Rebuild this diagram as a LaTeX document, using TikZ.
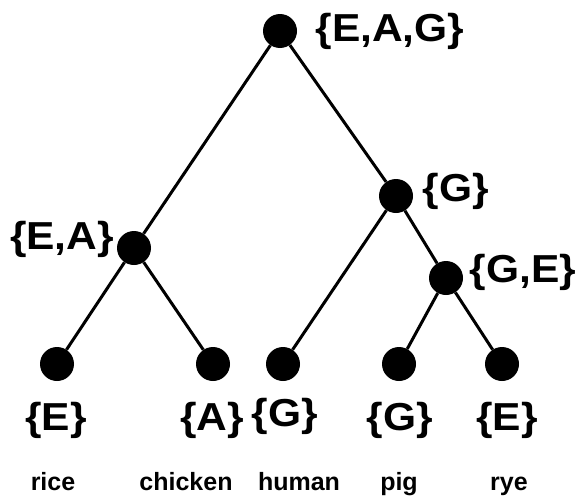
\documentclass[tikz,border=0pt]{standalone}
\usepackage{fontspec}
\setmainfont{Liberation Sans}
\newfontfamily\setlabelfont{Liberation Sans}[FakeStretch=1.09]
\begin{document}
\begin{tikzpicture}[x=1pt,y=-1pt,
  dot/.style={circle,fill=black,inner sep=0pt,minimum size=34pt},
  set/.style={font=\setlabelfont\fontsize{39}{42}\selectfont\bfseries,inner sep=0pt,anchor=base},
  taxon/.style={font=\fontsize{25}{28}\selectfont\bfseries,inner sep=0pt,anchor=base},
  edge/.style={line width=3pt}]
\useasboundingbox (0,0) rectangle (579,498);
\node[dot] (r) at (280,31) {};
\node[dot] (g) at (396,196) {};
\node[dot] (ea) at (134,248) {};
\node[dot] (ge) at (446,278) {};
\node[dot] (l1) at (57,364) {};
\node[dot] (l2) at (213,364) {};
\node[dot] (l3) at (283,364) {};
\node[dot] (l4) at (399,364) {};
\node[dot] (l5) at (502,364) {};
\draw[edge] (r) -- (ea);
\draw[edge] (r) -- (g);
\draw[edge] (ea) -- (l1);
\draw[edge] (ea) -- (l2);
\draw[edge] (g) -- (l3);
\draw[edge] (g) -- (ge);
\draw[edge] (ge) -- (l4);
\draw[edge] (ge) -- (l5);
\node[set] (sr) at (390,41) {\{E,A,G\}};
\node[set] (sg) at (456,201) {\{G\}};
\node[set] (sea) at (62,249) {\{E,A\}};
\node[set] (sge) at (523,282) {\{G,E\}};
\node[set] (s1) at (56,430) {\{E\}};
\node[set] (s2) at (212,430) {\{A\}};
\node[set] (s3) at (285,426) {\{G\}};
\node[set] (s4) at (400,430) {\{G\}};
\node[set] (s5) at (507,430) {\{E\}};
\node[taxon] (t1) at (53,490) {rice};
\node[taxon] (t2) at (186,490) {chicken};
\node[taxon] (t3) at (299,490) {human};
\node[taxon] (t4) at (399,490) {pig};
\node[taxon] (t5) at (509,490) {rye};
\end{tikzpicture}
\end{document}
